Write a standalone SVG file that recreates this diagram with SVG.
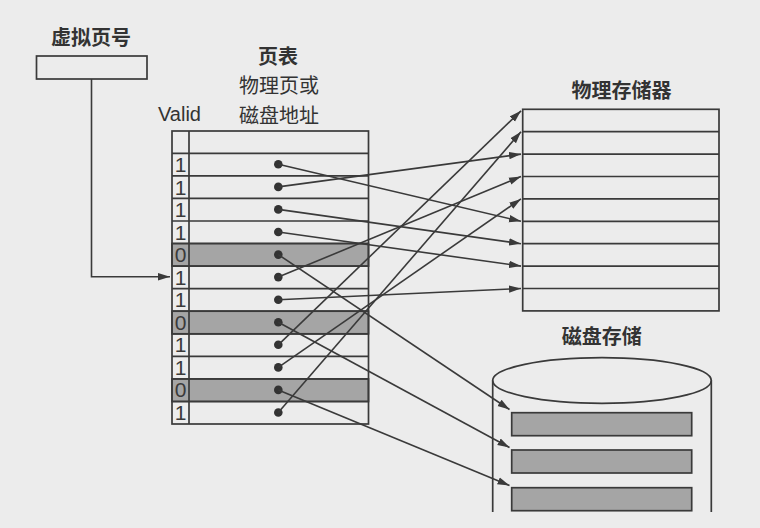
<svg xmlns="http://www.w3.org/2000/svg" width="760" height="528" viewBox="0 0 760 528">
<defs>
<marker id="ah" markerUnits="userSpaceOnUse" markerWidth="13" markerHeight="9" refX="12" refY="4.5" orient="auto">
<path d="M0,0.8 L12,4.5 L0,8.2 Z" fill="#3a3a3a"/>
</marker>
<style>
.ln{stroke:#3a3a3a;stroke-width:1.7;fill:none}
.box{stroke:#3a3a3a;stroke-width:1.7;fill:none}
.gray{fill:#a5a5a5;stroke:#3a3a3a;stroke-width:1.7}
.dot{fill:#333}
.t{font-family:"Noto Sans CJK SC","Noto Sans",sans-serif;font-size:20px;fill:#333;text-anchor:middle}
.b{font-weight:bold}
.v{font-family:"Liberation Sans",Arial,sans-serif;font-size:20px;fill:#333;text-anchor:middle}
.d{font-family:"Liberation Sans",Arial,sans-serif;font-size:21px;fill:#3a3a3a;text-anchor:middle}
.arr{stroke:#3a3a3a;stroke-width:1.6;fill:none;marker-end:url(#ah)}
</style>
</defs>
<rect width="760" height="528" fill="#ececec"/>

<g id="virtual-page">
<text class="t b" x="91" y="44.6">虚拟页号</text>
<rect class="box" x="36.5" y="56" width="110.5" height="23"/>
</g>

<g id="page-table">
<text class="t b" x="278" y="63.5">页表</text>
<text class="t" x="279" y="92.5">物理页或</text>
<text class="t" x="279" y="123">磁盘地址</text>
<text class="v" x="179.5" y="120.7">Valid</text>
<rect class="gray" x="172" y="243.5" width="196.5" height="22.6"/>
<rect class="gray" x="172" y="311.2" width="196.5" height="22.6"/>
<rect class="gray" x="172" y="378.9" width="196.5" height="22.6"/>
<rect class="box" x="172" y="131" width="196.5" height="293"/>
<line class="ln" x1="189" y1="131" x2="189" y2="424"/>
<path class="ln" d="M172,153.3H368.5M172,175.9H368.5M172,198.4H368.5M172,221H368.5M172,243.5H368.5M172,266.1H368.5M172,288.7H368.5M172,311.2H368.5M172,333.8H368.5M172,356.3H368.5M172,378.9H368.5M172,401.5H368.5"/>
<g class="d">
<text x="180.5" y="172">1</text>
<text x="180.5" y="194.5">1</text>
<text x="180.5" y="217">1</text>
<text x="180.5" y="239.5">1</text>
<text x="180.5" y="262">0</text>
<text x="180.5" y="284.5">1</text>
<text x="180.5" y="307">1</text>
<text x="180.5" y="329.5">0</text>
<text x="180.5" y="352">1</text>
<text x="180.5" y="374.5">1</text>
<text x="180.5" y="397">0</text>
<text x="180.5" y="419.5">1</text>
</g>
<g class="dot">
<circle cx="278.3" cy="164.3" r="4.3"/>
<circle cx="278.3" cy="186.9" r="4.3"/>
<circle cx="278.3" cy="209.4" r="4.3"/>
<circle cx="278.3" cy="232" r="4.3"/>
<circle cx="278.3" cy="254.6" r="4.3"/>
<circle cx="278.3" cy="277.1" r="4.3"/>
<circle cx="278.3" cy="299.7" r="4.3"/>
<circle cx="278.3" cy="322.2" r="4.3"/>
<circle cx="278.3" cy="344.8" r="4.3"/>
<circle cx="278.3" cy="367.4" r="4.3"/>
<circle cx="278.3" cy="389.9" r="4.3"/>
<circle cx="278.3" cy="412.5" r="4.3"/>
</g>
</g>

<g id="physical-memory">
<text class="t b" x="621.5" y="98">物理存储器</text>
<rect class="box" x="522.7" y="109.3" width="196.3" height="201.6"/>
<path class="ln" d="M522.7,131.7H719M522.7,154.1H719M522.7,176.5H719M522.7,198.9H719M522.7,221.3H719M522.7,243.7H719M522.7,266.1H719M522.7,288.5H719"/>
</g>

<g id="disk-storage">
<text class="t b" x="601.7" y="344">磁盘存储</text>
<path class="ln" d="M492.7,380.5V512M711.3,380.5V512"/>
<ellipse class="ln" cx="602" cy="380.5" rx="109.3" ry="22.8"/>
<rect class="gray" x="511.7" y="412.7" width="180" height="23"/>
<rect class="gray" x="511.7" y="450" width="180" height="23"/>
<rect class="gray" x="511.7" y="487.7" width="180" height="23"/>
</g>

<g id="connectors">
<path class="arr" d="M91.5,79V276.8H170"/>
<line class="arr" x1="278.3" y1="164.3" x2="521" y2="221.3"/>
<line class="arr" x1="278.3" y1="186.9" x2="521" y2="154.1"/>
<line class="arr" x1="278.3" y1="209.4" x2="521" y2="243.7"/>
<line class="arr" x1="278.3" y1="232" x2="521" y2="266.1"/>
<line class="arr" x1="278.3" y1="277.1" x2="521" y2="176.5"/>
<line class="arr" x1="278.3" y1="299.7" x2="521" y2="288.5"/>
<line class="arr" x1="278.3" y1="344.8" x2="521" y2="110.8"/>
<line class="arr" x1="278.3" y1="367.4" x2="521" y2="198.9"/>
<line class="arr" x1="278.3" y1="412.5" x2="521" y2="131.7"/>
<line class="arr" x1="278.3" y1="254.6" x2="509.5" y2="409.5"/>
<line class="arr" x1="278.3" y1="322.2" x2="509.5" y2="447.5"/>
<line class="arr" x1="278.3" y1="389.9" x2="509.5" y2="485.5"/>
</g>
</svg>
